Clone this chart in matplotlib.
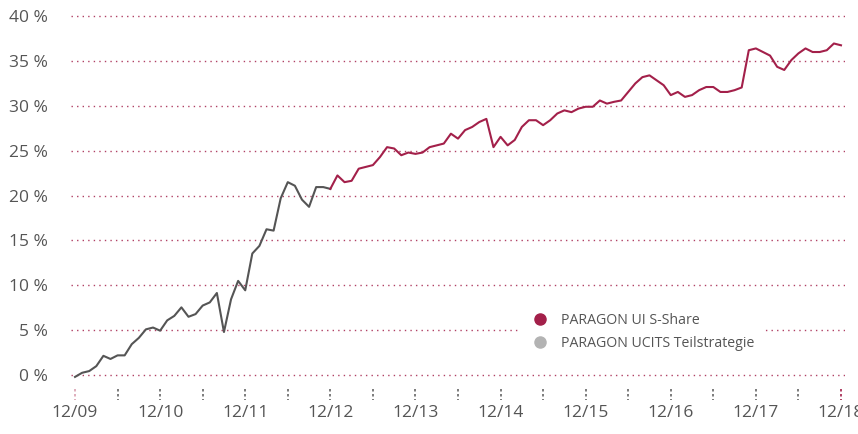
import matplotlib.pyplot as plt
from matplotlib.lines import Line2D

# monthly performance in %, 12/2009 .. 12/2018
perf = [-0.2, 0.26, 0.45, 1.0, 2.15, 1.8, 2.2, 2.2, 3.45, 4.15, 5.1, 5.3,
        4.95, 6.1, 6.6, 7.55, 6.5, 6.8, 7.75, 8.1, 9.15, 4.8, 8.45, 10.5,
        9.45, 13.55, 14.4, 16.25, 16.1, 19.7, 21.5, 21.1, 19.55, 18.75, 20.95, 20.95,
        20.75, 22.25, 21.5, 21.65, 23.0, 23.2, 23.4, 24.3, 25.4, 25.25, 24.5, 24.8,
        24.65, 24.8, 25.4, 25.6, 25.8, 26.9, 26.35, 27.3, 27.65, 28.2, 28.55, 25.4,
        26.55, 25.6, 26.2, 27.65, 28.4, 28.4, 27.85, 28.4, 29.15, 29.5, 29.3, 29.7,
        29.9, 29.9, 30.6, 30.25, 30.45, 30.6, 31.55, 32.5, 33.2, 33.4, 32.85, 32.3,
        31.2, 31.55, 31.0, 31.2, 31.75, 32.1, 32.1, 31.55, 31.55, 31.75, 32.05, 36.2,
        36.4, 36.0, 35.6, 34.35, 34.0, 35.1, 35.85, 36.4, 36.0, 36.0, 36.2, 36.95,
        36.75]
months = list(range(len(perf)))
split = 36  # S-Share starts 12/12, before that UCITS Teilstrategie

year_labels = ["12/09", "12/10", "12/11", "12/12", "12/13", "12/14",
               "12/15", "12/16", "12/17", "12/18"]
y_ticks = [0, 5, 10, 15, 20, 25, 30, 35, 40]

red = "#a3204a"
gray_line = "#555555"
gray_dot = "#b3b3b3"
txt = "#555555"

plt.rcParams['font.family'] = ['Open Sans', 'DejaVu Sans']

fig = plt.figure(figsize=(8.58, 4.34), dpi=100)
ax = fig.add_axes([0.0833, 0.115, 0.901, 0.852])

ax.plot(months[:split + 1], perf[:split + 1], color=gray_line, lw=1.5)
ax.plot(months[split:], perf[split:], color=red, lw=1.5)

ax.set_xlim(-0.5, 108.5)
ax.set_ylim(-1, 40.2)

ax.set_yticks(y_ticks)
ax.set_yticklabels([f"{v} %" for v in y_ticks])
ax.set_xticks(range(0, 109, 12))
ax.set_xticklabels(year_labels)
ax.tick_params(axis='both', length=0, labelsize=12.5, colors=txt)
ax.tick_params(axis='x', pad=15)
ax.tick_params(axis='y', pad=17)

for s in ax.spines.values():
    s.set_visible(False)

ax.grid(axis='y', color=red, linestyle=(0, (1, 3)), lw=1, alpha=0.85)
ax.set_axisbelow(True)

# dotted half-year ticks below the plot
trans = ax.get_xaxis_transform()
for i, m in enumerate(range(0, 109, 6)):
    c = "#d9a0b0" if i == 0 else (red if m == 108 else "#666666")
    ax.plot([m, m], [-0.012, -0.042], transform=trans, clip_on=False,
            color=c, lw=1.2, linestyle=(0, (1.5, 1.5)))

handles = [Line2D([], [], marker='o', ls='', color=red, markersize=8),
           Line2D([], [], marker='o', ls='', color=gray_dot, markersize=8)]
leg = fig.legend(handles, ["PARAGON UI S-Share", "PARAGON UCITS Teilstrategie"],
                 loc='upper left', bbox_to_anchor=(0.6035, 0.299), frameon=True,
                 facecolor='white', edgecolor='none', framealpha=1,
                 fontsize=10.2, labelcolor=txt, handletextpad=0.45, labelspacing=0.55,
                 borderaxespad=0, borderpad=0.6, fancybox=False)

fig.savefig("out.png", dpi=100)
